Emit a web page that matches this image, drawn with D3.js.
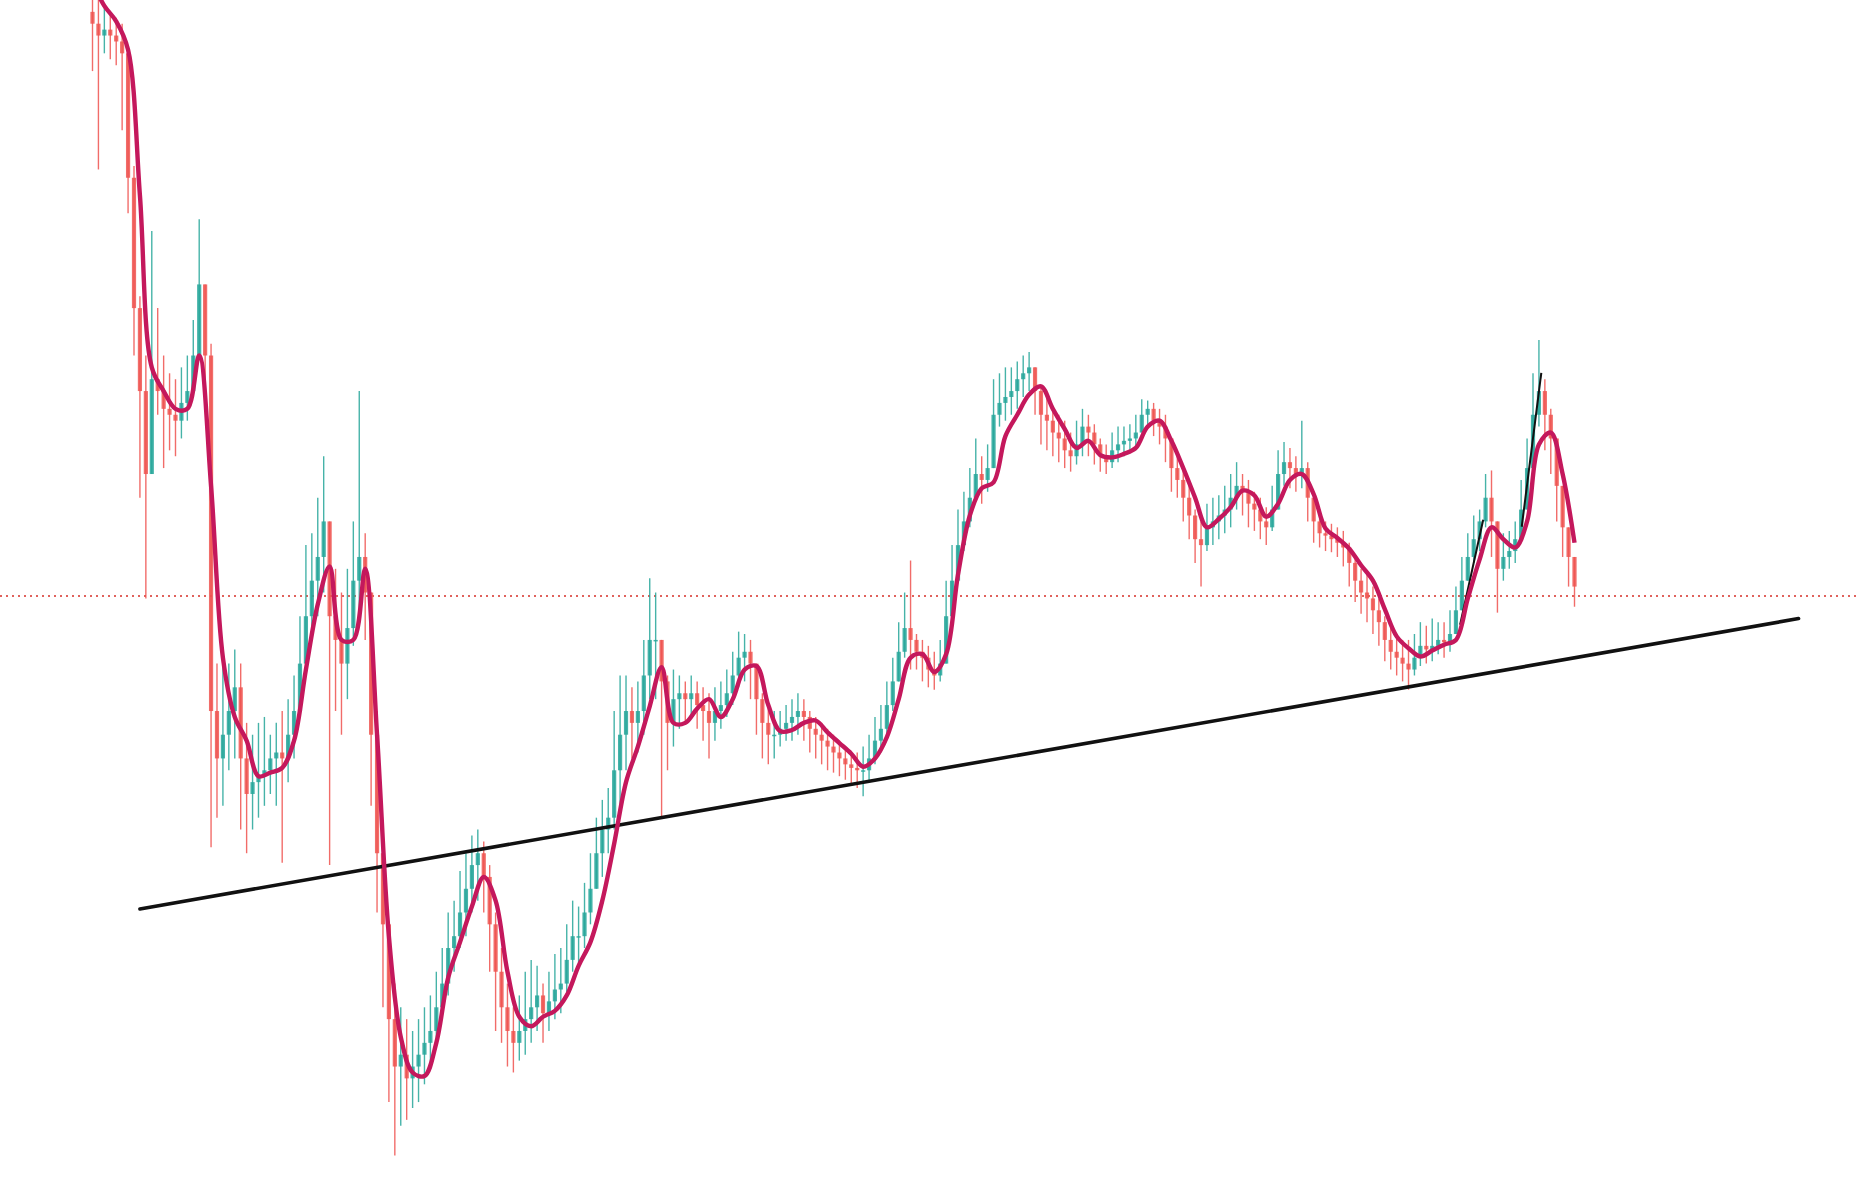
<!DOCTYPE html>
<html>
<head>
<meta charset="utf-8">
<script src="https://cdn.jsdelivr.net/npm/d3@7"></script>
<style>
  html, body { margin: 0; padding: 0; background: #fff; overflow: hidden; }
</style>
</head>
<body>
<div id="chart"></div>
<script>
const width = 1859;
const height = 1204;

// candle closes, highs, lows (open = previous close)
const closes = [
  980,970,975,970,965,955,850,740,670,600,
  680,670,655,650,645,660,670,700,760,700,
  400,360,380,400,420,360,330,340,345,350,
  360,365,360,380,400,440,480,510,530,560,
  480,460,440,470,510,530,500,380,280,220,
  140,100,110,90,100,110,120,130,150,170,
  200,210,230,250,270,280,260,220,180,150,
  130,120,130,140,150,160,145,155,165,170,
  190,210,210,230,250,280,300,310,350,380,
  400,390,400,430,460,460,425,390,410,415,
  410,415,405,400,390,400,405,415,430,445,
  450,440,410,390,380,380,385,390,395,400,
  395,385,380,375,370,365,360,355,352,350,
  350,360,375,385,405,425,450,470,460,450,
  445,435,430,440,480,510,540,560,580,600,
  595,605,650,660,665,670,680,685,690,670,
  650,645,635,630,620,615,625,640,635,625,
  615,610,620,625,628,630,635,650,655,645,
  640,630,605,595,580,565,545,540,555,560,
  565,570,580,590,585,575,570,560,555,570,
  600,610,605,600,605,580,560,550,548,545,
  542,538,525,510,500,495,485,475,460,450,
  445,440,435,445,455,452,455,460,458,465,
  485,510,530,545,560,580,560,520,530,535,
  545,570,605,650,670,650,630,590,555,530,
  505
];

const highs = [
  1005,1000,995,990,985,980,960,860,750,700,
  805,740,700,685,680,690,700,730,815,760,
  710,440,450,440,452,440,390,380,390,395,
  380,390,400,410,430,480,540,550,580,615,
  540,520,500,520,560,670,550,500,400,300,
  220,170,150,140,130,140,150,160,180,200,
  230,240,265,280,295,300,290,270,230,200,
  170,150,160,180,190,185,170,180,195,200,
  220,240,235,255,280,310,325,335,400,430,
  430,420,425,460,512,500,460,430,435,430,
  425,430,425,420,415,420,425,435,450,467,
  465,460,440,415,405,400,400,405,410,415,
  410,400,395,390,385,380,375,370,365,365,
  370,380,395,405,425,445,475,500,527,465,
  460,455,450,460,510,540,570,585,605,630,
  615,625,680,685,690,690,695,700,703,685,
  675,665,655,650,645,635,645,655,650,642,
  630,625,635,640,640,642,650,663,662,660,
  655,650,630,615,605,590,570,560,575,580,
  582,590,600,610,600,595,585,580,572,590,
  620,627,622,615,645,610,580,565,560,558,
  555,552,542,530,520,515,505,495,480,470,
  465,460,460,465,475,472,478,475,475,485,
  505,530,550,565,570,600,603,560,550,552,
  560,595,630,685,713,680,655,620,580,550,
  530
];

const lows = [
  940,857,955,950,945,890,820,700,580,495,
  620,650,605,620,615,630,645,670,710,660,
  285,310,320,350,360,300,280,300,310,320,
  330,320,272,340,360,400,440,470,480,500,
  270,400,380,410,455,480,460,320,230,150,
  70,25,50,55,65,70,85,100,120,140,
  160,180,200,210,230,240,230,180,130,120,
  100,95,105,110,120,130,120,130,140,145,
  160,180,185,200,220,250,260,280,300,320,
  350,360,365,380,410,410,310,350,370,385,
  390,395,385,375,360,375,385,395,405,420,
  425,410,380,360,355,360,370,375,375,380,
  375,365,360,355,350,348,345,342,338,335,
  328,340,355,365,380,400,425,445,435,435,
  425,420,418,425,455,485,515,535,555,580,
  575,585,620,640,645,650,655,665,670,650,
  625,620,615,610,605,602,608,615,615,608,
  602,600,605,610,615,618,620,635,640,632,
  625,610,585,580,560,545,525,505,535,540,
  545,550,555,570,565,555,552,545,540,552,
  580,590,588,585,588,560,542,538,535,534,
  530,522,505,492,482,475,465,455,442,435,
  430,425,418,430,438,440,442,448,445,450,
  465,490,510,525,535,555,530,483,510,520,
  525,545,580,620,640,620,600,560,530,505,
  488
];

// moving average, one value every 2 candles
const maStep = 2;
const maValues = [
  1015,995,982,958,835,690,670,655,655,700,
  590,445,395,375,345,348,352,375,435,490,
  522,460,460,520,380,210,125,95,92,120,
  175,205,235,260,240,180,142,134,142,147,
  160,185,205,240,288,340,370,404,437,390,
  390,402,410,395,410,435,438,405,383,384,
  390,392,382,373,364,353,360,378,410,445,
  448,433,448,515,565,588,593,632,650,667,
  674,655,638,622,628,616,614,617,622,640,
  645,628,605,580,555,562,572,586,582,564,
  575,595,600,583,554,546,537,523,510,486,
  463,453,446,451,456,460,495,528,555,545,
  538,560,625,635,600,542
];

// drawn lines, [candle index, price]
const trendLine = [[8, 233], [287.8, 478]];
const shortLines = [
  [[230.7, 472.8], [234.6, 561.4]],
  [[241.1, 555.5], [244.4, 685.4]]
];
const priceLevel = 497;

const svg = d3.select("#chart").append("svg")
  .attr("width", width)
  .attr("height", height);

const x = d3.scaleLinear().domain([0, 250]).range([92.5, 1574.5]);
const y = d3.scaleLinear().domain([-16, 1000]).range([1204, 0]);

let candles = closes.map((c, i) => {
  let o = i === 0 ? c + 10 : closes[i - 1];
  return {
    i: i,
    open: o,
    close: c,
    high: Math.max(highs[i], o, c),
    low: Math.min(lows[i], o, c)
  };
});

const up = "#26a69a";
const down = "#ef5350";

// dotted level
svg.append("line")
  .attr("x1", 0).attr("x2", width)
  .attr("y1", y(priceLevel)).attr("y2", y(priceLevel))
  .attr("stroke", "#e0625c")
  .attr("stroke-width", 2)
  .attr("stroke-dasharray", "2,4");

let g = svg.append("g");

g.selectAll(".wick")
  .data(candles)
  .enter().append("line")
  .attr("class", "wick")
  .attr("x1", d => x(d.i)).attr("x2", d => x(d.i))
  .attr("y1", d => y(d.high)).attr("y2", d => y(d.low))
  .attr("stroke", d => d.close >= d.open ? up : down)
  .attr("stroke-width", 1.4)
  .attr("opacity", 0.85);

g.selectAll(".body")
  .data(candles)
  .enter().append("rect")
  .attr("class", "body")
  .attr("x", d => x(d.i) - 2.1)
  .attr("width", 4.2)
  .attr("y", d => y(Math.max(d.open, d.close)))
  .attr("height", d => Math.max(1.5, Math.abs(y(d.open) - y(d.close))))
  .attr("fill", d => d.close >= d.open ? up : down)
  .attr("opacity", 0.85);

// trend line
svg.append("line")
  .attr("x1", x(trendLine[0][0])).attr("y1", y(trendLine[0][1]))
  .attr("x2", x(trendLine[1][0])).attr("y2", y(trendLine[1][1]))
  .attr("stroke", "#111")
  .attr("stroke-width", 3.6)
  .attr("stroke-linecap", "round");

svg.selectAll(".short")
  .data(shortLines)
  .enter().append("line")
  .attr("class", "short")
  .attr("x1", d => x(d[0][0])).attr("y1", d => y(d[0][1]))
  .attr("x2", d => x(d[1][0])).attr("y2", d => y(d[1][1]))
  .attr("stroke", "#111")
  .attr("stroke-width", 2);

// moving average
const maLine = d3.line()
  .x((d, k) => x(k * maStep))
  .y(d => y(d))
  .curve(d3.curveCatmullRom.alpha(0.5));

svg.append("path")
  .datum(maValues)
  .attr("d", maLine)
  .attr("fill", "none")
  .attr("stroke", "#c4185c")
  .attr("stroke-width", 4.4)
  .attr("stroke-linejoin", "round");
</script>
</body>
</html>
